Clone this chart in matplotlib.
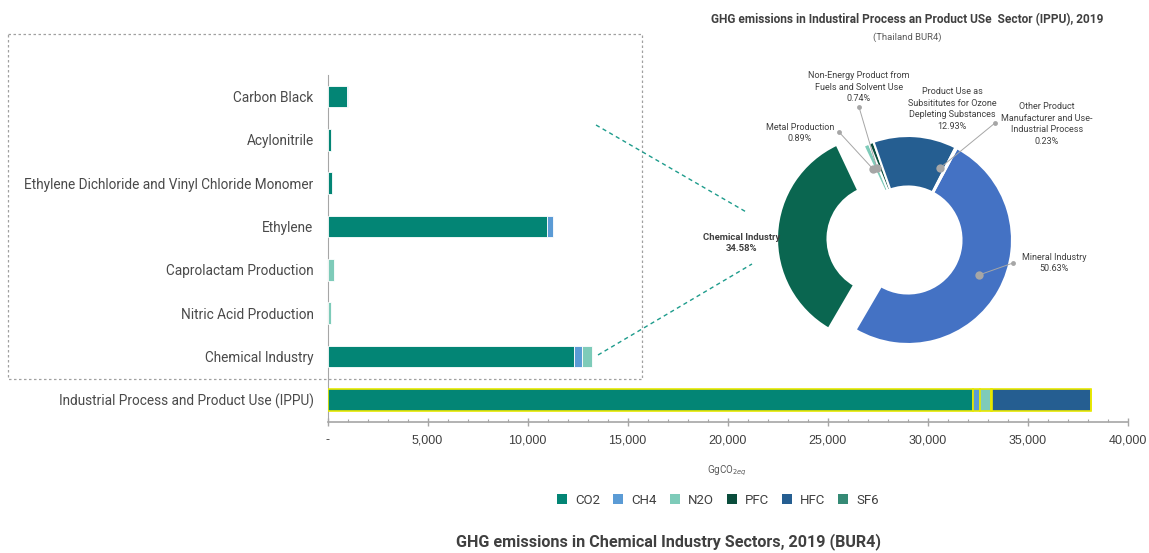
import matplotlib
matplotlib.use("Agg")
import matplotlib.pyplot as plt
from matplotlib.patches import Rectangle, Patch
from matplotlib.ticker import MultipleLocator, FuncFormatter

# ---------------- data ----------------
categories = ["Carbon Black", "Acylonitrile",
              "Ethylene Dichloride and Vinyl Chloride Monomer", "Ethylene",
              "Caprolactam Production", "Nitric Acid Production",
              "Chemical Industry", "Industrial Process and Product Use (IPPU)"]
co2 = [960, 170, 210, 10950, 0, 0, 12300, 32270]
ch4 = [40, 0, 0, 330, 0, 0, 400, 360]
n2o = [0, 0, 0, 0, 330, 170, 500, 550]
pfc = [0, 0, 0, 0, 0, 0, 0, 30]
hfc = [0, 0, 0, 0, 0, 0, 0, 4960]
sf6 = [0, 0, 0, 0, 0, 0, 0, 20]
gases = ["CO2", "CH4", "N2O", "PFC", "HFC", "SF6"]
gas_colors = ["#038575", "#5B9BD5", "#7ECBB9", "#0A4D3C", "#255E91", "#358A75"]

pie_labels = ["Mineral Industry", "Chemical Industry", "Metal Production",
              "Non-Energy Product from\nFuels and Solvent Use",
              "Product Use as\nSubsititutes for Ozone\nDepleting Substances",
              "Other Product\nManufacturer and Use-\nIndustrial Process"]
pie_pct = [50.63, 34.58, 0.89, 0.74, 12.93, 0.23]
pie_colors = ["#4472C4", "#0A6650", "#7ECBB9", "#0A4D3C", "#255E91", "#FFFFFF"]

W, H = 1149, 553
fig = plt.figure(figsize=(W / 100, H / 100), dpi=100)
fig.patch.set_facecolor("white")

def fr(l, t, r, b):
    return [l / W, 1 - b / H, (r - l) / W, (b - t) / H]

# ---------------- bar chart ----------------
ax = fig.add_axes(fr(327.5, 74.8, 1127.5, 421.7))
ypos = list(range(len(categories)))
series = [co2, ch4, n2o, pfc, hfc, sf6]
left = [0.0] * len(categories)
handles = []
for name, vals, col in zip(gases, series, gas_colors):
    ecs = ["white"] * (len(categories) - 1) + ["#E8E800"]
    lws = [0.0 if v == 0 else (0.6 if i < len(categories) - 1 else 1.2)
           for i, v in enumerate(vals)]
    ax.barh(ypos, vals, left=left, height=0.5, color=col,
            edgecolor=ecs, linewidth=lws, zorder=3)
    left = [a + b for a, b in zip(left, vals)]
    handles.append(Patch(facecolor=col, edgecolor="none", label=name))

ax.set_ylim(len(categories) - 0.5, -0.5)
ax.set_xlim(0, 40000)
ax.set_yticks(ypos)
ax.set_yticklabels(categories, fontsize=9.8, color="#4a4a4a", family="Roboto")
ax.tick_params(axis="y", length=0, pad=10)
ax.xaxis.set_major_locator(MultipleLocator(5000))
ax.xaxis.set_minor_locator(MultipleLocator(1000))
ax.xaxis.set_major_formatter(FuncFormatter(lambda v, p: "-" if v == 0 else f"{int(v):,}"))
ax.tick_params(axis="x", which="major", direction="inout", length=6, width=1,
               color="#A6A6A6", labelsize=9, labelcolor="#404040", pad=6)
ax.tick_params(axis="x", which="minor", direction="in", length=2, width=0.8,
               color="#A6A6A6")
for lab in ax.get_xticklabels():
    lab.set_family("Liberation Sans")
for s in ["top", "right"]:
    ax.spines[s].set_visible(False)
ax.spines["left"].set_color("#A6A6A6")
ax.spines["bottom"].set_color("#A6A6A6")
ax.spines["bottom"].set_linewidth(1.2)
ax.set_facecolor("none")

# ---------------- donut ----------------
pax = fig.add_axes(fr(758, 90, 1058, 390))
explode = [0, 27, 0, 0, 0, 0]
pax.pie(pie_pct, colors=pie_colors, startangle=62, counterclock=False,
        radius=104, explode=explode,
        wedgeprops=dict(width=50.5, edgecolor="white", linewidth=1.5))
pax.set_xlim(-150, 150)
pax.set_ylim(-150, 150)
pax.set_aspect("equal")
pax.axis("off")

# ---------------- overlay (pixel coords) ----------------
ov = fig.add_axes([0, 0, 1, 1], zorder=10)
ov.set_xlim(0, W)
ov.set_ylim(H, 0)
ov.axis("off")
ov.patch.set_alpha(0)

ov.add_patch(Rectangle((8, 34), 634, 345, fill=False, edgecolor="#A0A0A0",
                       linestyle=(0, (2, 2)), linewidth=0.9))
ov.plot([596, 748], [125, 213], color="#1E9C8C", lw=1, linestyle=(0, (3, 2.5)))
ov.plot([598, 752], [355, 264], color="#1E9C8C", lw=1, linestyle=(0, (3, 2.5)))

ov.text(907, 20, "GHG emissions in Industiral Process an Product USe  Sector (IPPU), 2019",
        ha="center", va="center", fontsize=8.6, fontweight="bold", color="#404040",
        family="Roboto")
ov.text(907, 37, "(Thailand BUR4)", ha="center", va="center", fontsize=6.8,
        color="#595959", family="Roboto")

lab_kw = dict(ha="center", va="center", fontsize=6.5, color="#404040",
              family="Roboto", linespacing=1.35)
ov.text(859, 87, pie_labels[3] + f"\n{pie_pct[3]:.2f}%", **lab_kw)
ov.text(952, 109, pie_labels[4] + f"\n{pie_pct[4]:.2f}%", **lab_kw)
ov.text(1047, 124, pie_labels[5] + f"\n{pie_pct[5]:.2f}%", **lab_kw)
ov.text(800, 133, pie_labels[2] + f"\n{pie_pct[2]:.2f}%", **lab_kw)
ov.text(1054, 263, pie_labels[0] + f"\n{pie_pct[0]:.2f}%", **lab_kw)
ov.text(742, 243, pie_labels[1] + f"\n{pie_pct[1]:.2f}%", ha="center", va="center",
        fontsize=6.8, color="#404040", family="Roboto", fontweight="bold",
        linespacing=1.35)

leaders = [((839, 132), (873, 169)), ((859, 107), (877, 168)),
           ((995, 123), (940, 168)), ((1013, 263), (979, 275))]
for (x1, y1), (x2, y2) in leaders:
    ov.plot([x1, x2], [y1, y2], color="#A6A6A6", lw=0.7)
    ov.plot([x1], [y1], "o", color="#A6A6A6", ms=3.5, mec="none")
    ov.plot([x2], [y2], "o", color="#A6A6A6", ms=6, mec="none")

ov.text(727, 471, r"GgCO$_{2eq}$", ha="center", va="center", fontsize=7,
        color="#595959", family="Roboto")
ov.text(669, 542, "GHG emissions in Chemical Industry Sectors, 2019 (BUR4)",
        ha="center", va="center", fontsize=11.6, fontweight="bold",
        color="#404040", family="Roboto")

fig.legend(handles=handles, loc="center", bbox_to_anchor=(718 / W, 1 - 500 / H),
           ncol=6, frameon=False, handlelength=0.75, handleheight=0.75,
           handletextpad=0.6, columnspacing=1.0,
           prop={"family": "Roboto", "size": 9.5}, labelcolor="#404040")

fig.savefig("out.png", dpi=100, facecolor="white")
